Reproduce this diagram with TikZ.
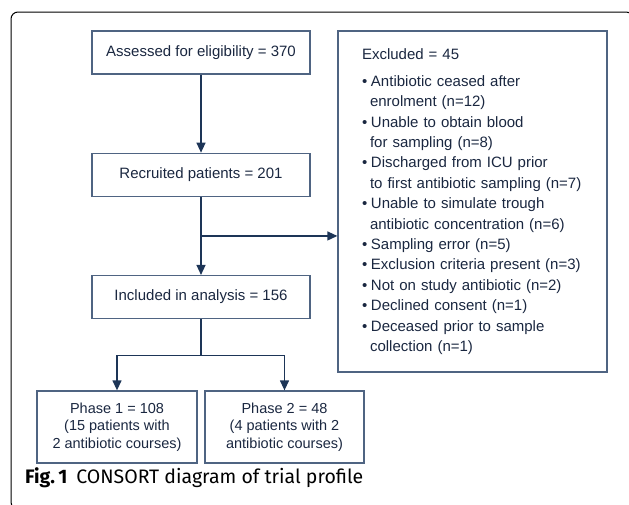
\documentclass[tikz,border=0pt]{standalone}
\usepackage{fontspec}
\setmainfont{Liberation Sans}
\newfontfamily\capfont{Fira Sans}
\usepackage{tikz}
\usetikzlibrary{arrows.meta,calc,positioning}

\definecolor{boxline}{HTML}{4F6482}
\definecolor{arrowcol}{HTML}{1D3557}
\definecolor{textcol}{HTML}{1A2740}

\newcommand{\bul}[1]{\makebox[9pt][l]{\textbullet}#1}
\newcommand{\cont}[1]{\hspace*{8pt}#1}

\begin{document}
\begin{tikzpicture}[auto,>={Triangle[length=10pt,width=9pt]}]
	\tikzstyle{block} = [draw=boxline, line width=1.3pt, rectangle, text=textcol, minimum height=43pt, minimum width=218pt, inner sep=0pt, font=\fontsize{15}{18}\selectfont]
	\tikzstyle{phasebox} = [block, minimum width=160pt, minimum height=72pt, align=center, font=\fontsize{14.5}{17.5}\selectfont]
	\tikzstyle{link} = [draw=arrowcol, line width=1.3pt]
	
	\useasboundingbox (0,0) rectangle (629pt,-504pt);
	\draw [line width=1pt, rounded corners=7pt] (11pt,-12pt) rectangle (633pt,-509pt);
	
	\node [block] (assess) at (201pt,-52.5pt) {Assessed for eligibility = 370};
	\node [block, below = 78pt of assess] (recruit) {Recruited patients = 201};
	\node [block, below = 78pt of recruit] (incl) {Included in analysis = 156};
	
	\node [coordinate] (c0) at ($(recruit.south)!0.5!(incl.north)$) {};
	\node [coordinate, below = 36pt of incl] (c1) {};
	
	\node [block, minimum width=269pt, minimum height=341pt, inner xsep=24pt, text width=221pt, align=left, font=\fontsize{15}{20.4}\selectfont] (excl) at (472.5pt,-201.5pt) {%
		Excluded = 45\\[6.6pt]
		\bul{Antibiotic ceased after}\\
		\cont{enrolment (n=12)}\\
		\bul{Unable to obtain blood}\\
		\cont{for sampling (n=8)}\\
		\bul{Discharged from ICU prior}\\
		\cont{to first antibiotic sampling (n=7)}\\
		\bul{Unable to simulate trough}\\
		\cont{antibiotic concentration (n=6)}\\
		\bul{Sampling error (n=5)}\\
		\bul{Exclusion criteria present (n=3)}\\
		\bul{Not on study antibiotic (n=2)}\\
		\bul{Declined consent (n=1)}\\
		\bul{Deceased prior to sample}\\
		\cont{collection (n=1)}};
	
	\node [phasebox] (phase1) at (117pt,-427pt) {Phase 1 = 108\\(15 patients with\\2 antibiotic courses)};
	\node [phasebox, minimum width=159pt] (phase2) at (284.5pt,-427pt) {Phase 2 = 48\\(4 patients with 2\\antibiotic courses)};
	
	\node [anchor=base west, inner sep=0pt, font=\capfont\fontsize{19.5}{23}\selectfont] (caption) at (25pt,-483.5pt) {\textbf{Fig.\,1}\hspace{9pt}CONSORT diagram of trial profile};
	
	\draw [link,->] (assess) -- (recruit);
	\draw [link,->] (recruit) -- (incl);
	\draw [link,->] (c0) -- (c0 -| excl.west);
	\draw [link] (incl) -- (c1);
	\draw [link,->] (c1) -| (phase1.north);
	\draw [link,->] (c1) -| (phase2.north);
\end{tikzpicture}
\end{document}
